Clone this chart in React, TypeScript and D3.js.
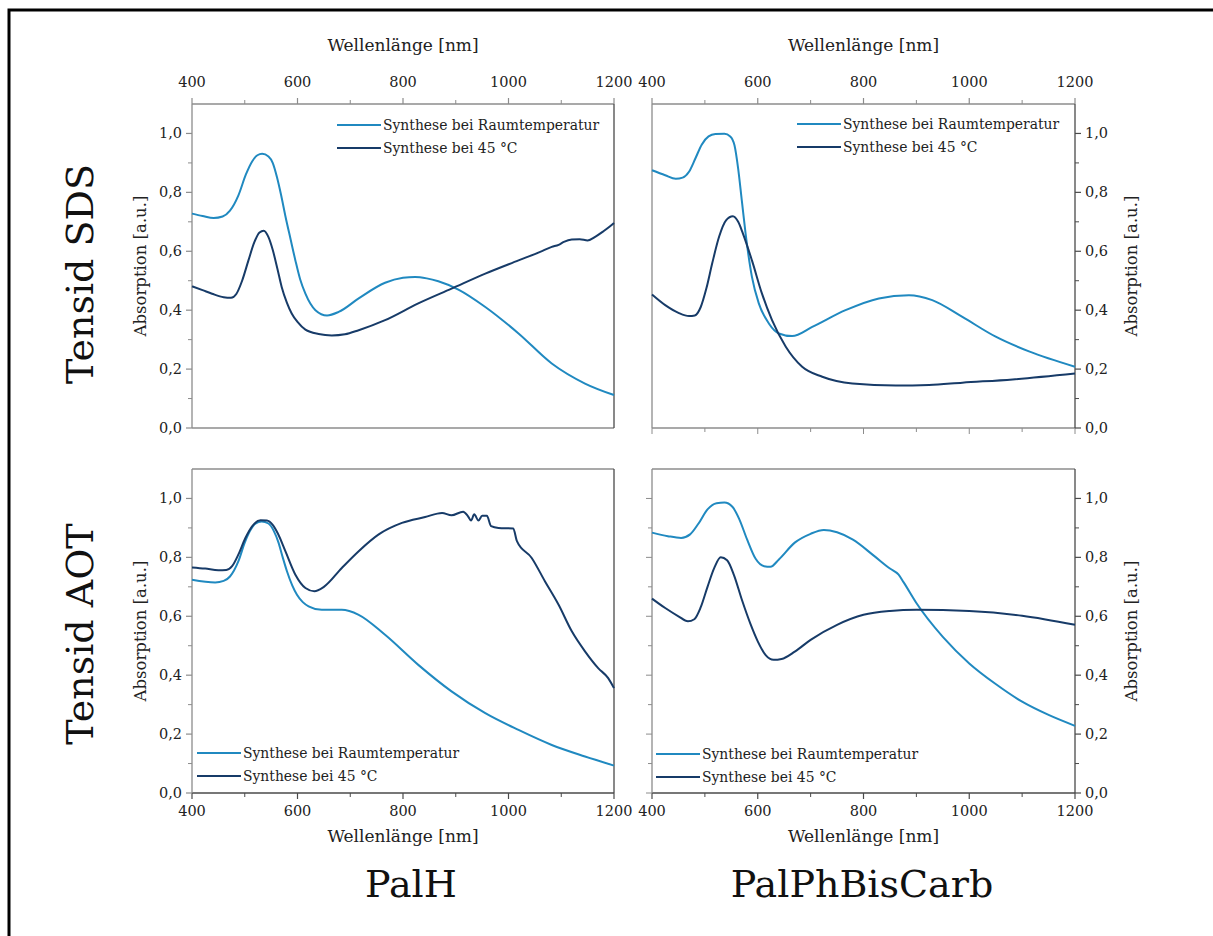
import React from "react";
import * as d3 from "d3";

// ---------- DATA (wavelength nm, absorption a.u.) ----------
const sdsPalH_RT: [number, number][] = [
  [400, 0.728], [420, 0.72], [441, 0.713], [458, 0.718], [472, 0.738], [488, 0.79], [502, 0.86], [514, 0.905], [524, 0.926], [533, 0.931], [545, 0.922],
  [553, 0.9], [561, 0.852], [569, 0.79], [577, 0.72], [587, 0.64], [596, 0.569], [605, 0.505], [615, 0.456], [634, 0.4], [656, 0.382], [678, 0.394],
  [716, 0.44], [766, 0.493], [800, 0.51], [823, 0.513], [845, 0.508], [867, 0.498], [905, 0.47], [956, 0.411], [1019, 0.321],
  [1082, 0.219], [1145, 0.151], [1200, 0.112],
];
const sdsPalH_45: [number, number][] = [
  [400, 0.481], [420, 0.468], [438, 0.456], [460, 0.444], [474, 0.442], [484, 0.455], [495, 0.5], [507, 0.569], [518, 0.63], [528, 0.664], [536, 0.67],
  [545, 0.648], [553, 0.605], [562, 0.54], [570, 0.479], [580, 0.425], [589, 0.389], [600, 0.36], [615, 0.334], [640, 0.319], [665, 0.314], [690, 0.318], [716, 0.332],
  [766, 0.366], [829, 0.423], [892, 0.473], [956, 0.524], [1019, 0.569], [1060, 0.598], [1082, 0.615],
  [1095, 0.622], [1105, 0.632], [1120, 0.64], [1135, 0.641], [1150, 0.637], [1165, 0.65], [1180, 0.668],
  [1192, 0.684], [1200, 0.696],
];
const sdsPal2_RT: [number, number][] = [
  [400, 0.875], [425, 0.858], [445, 0.846], [458, 0.85], [470, 0.87], [482, 0.915], [494, 0.962], [507, 0.99], [520, 0.998], [537, 0.999],
  [548, 0.99], [556, 0.96], [563, 0.88], [570, 0.77], [577, 0.66], [589, 0.513], [602, 0.423], [621, 0.355],
  [640, 0.321], [665, 0.312], [703, 0.343], [766, 0.4], [829, 0.44], [886, 0.451], [930, 0.434],
  [987, 0.377], [1050, 0.31], [1113, 0.26], [1200, 0.208],
];
const sdsPal2_45: [number, number][] = [
  [400, 0.453], [425, 0.417], [450, 0.391], [470, 0.38], [481, 0.382], [492, 0.41], [503, 0.475], [514, 0.56], [527, 0.65], [540, 0.705],
  [553, 0.719], [563, 0.7], [572, 0.66], [589, 0.569], [608, 0.456], [627, 0.366], [653, 0.276], [684, 0.208],
  [722, 0.174], [779, 0.151], [861, 0.144], [924, 0.146], [987, 0.154], [1082, 0.165], [1200, 0.185],
];
const aotPalH_RT: [number, number][] = [
  [400, 0.724], [444, 0.715], [460, 0.72], [472, 0.735], [488, 0.787], [500, 0.85], [510, 0.89], [520, 0.914], [532, 0.922], [545, 0.915],
  [555, 0.89], [564, 0.85], [572, 0.8], [580, 0.753], [590, 0.705], [599, 0.673], [610, 0.648], [621, 0.634], [646, 0.622], [684, 0.622], [716, 0.605],
  [766, 0.537], [829, 0.435], [892, 0.345], [956, 0.271], [1019, 0.214], [1082, 0.163], [1145, 0.124],
  [1200, 0.093],
];
const aotPalH_45: [number, number][] = [
  [400, 0.766], [425, 0.762], [450, 0.756], [465, 0.757], [476, 0.77], [488, 0.81], [501, 0.865], [515, 0.908], [530, 0.926], [542, 0.925],
  [553, 0.91], [563, 0.88], [577, 0.821], [596, 0.741], [615, 0.696], [632, 0.685], [650, 0.7], [684, 0.764],
  [716, 0.821], [754, 0.878], [798, 0.917], [842, 0.937], [874, 0.951], [892, 0.943], [914, 0.955],
  [923, 0.94], [929, 0.925], [935, 0.946], [943, 0.925], [950, 0.941], [959, 0.941], [967, 0.906],
  [981, 0.9], [1009, 0.898], [1016, 0.855], [1044, 0.798], [1069, 0.719], [1095, 0.639], [1120, 0.549],
  [1145, 0.481], [1170, 0.424], [1189, 0.39], [1200, 0.356],
];
const aotPal2_RT: [number, number][] = [
  [400, 0.884], [430, 0.872], [455, 0.866], [472, 0.878], [488, 0.915], [505, 0.963], [522, 0.984], [537, 0.986], [552, 0.972], [565, 0.93],
  [580, 0.86], [596, 0.795], [612, 0.77], [624, 0.768], [640, 0.793], [670, 0.85], [700, 0.88], [725, 0.893],
  [750, 0.885], [780, 0.86], [820, 0.805], [850, 0.762], [866, 0.742], [876, 0.715], [900, 0.645], [950, 0.53], [1000, 0.44],
  [1050, 0.37], [1100, 0.31], [1150, 0.265], [1200, 0.228],
];
const aotPal2_45: [number, number][] = [
  [400, 0.66], [425, 0.628], [450, 0.6], [468, 0.583], [480, 0.59], [492, 0.63], [505, 0.7], [518, 0.765], [530, 0.8], [542, 0.79],
  [555, 0.74], [570, 0.656], [586, 0.575], [600, 0.515], [615, 0.468], [630, 0.452], [645, 0.455], [670, 0.48], [700, 0.52], [750, 0.571],
  [800, 0.605], [850, 0.618], [900, 0.622], [1000, 0.618], [1100, 0.602], [1200, 0.571],
];

const xTicks = [400, 600, 800, 1000, 1200];
const xMinor = [500, 700, 900, 1100];
const yTicks = [0, 0.2, 0.4, 0.6, 0.8, 1.0];
const yMinor = [0.1, 0.3, 0.5, 0.7, 0.9];
const legendLabels = ["Synthese bei Raumtemperatur", "Synthese bei 45 °C"];
const rowLabels = ["Tensid SDS", "Tensid AOT"];
const colLabels = ["PalH", "PalPhBisCarb"];
const axisTitleX = "Wellenlänge [nm]";
const axisTitleY = "Absorption [a.u.]";

const C_RT = "#2089c0";
const C_45 = "#173b68";
const GRAY = "#8c8c8c";
const DARK = "#4a4a4a";
const FONT = "'DejaVu Serif', 'Liberation Serif', serif";

const fmt = (v: number) => v.toFixed(1).replace(".", ",");

type Panel = {
  x0: number; x1: number; top: number; bottom: number;
  side: "left" | "right"; row: "top" | "bottom";
  rt: [number, number][]; h45: [number, number][];
  legend: { x: number; y: number };
};

const panels: Panel[] = [
  { x0: 192, x1: 614, top: 104, bottom: 428, side: "left", row: "top", rt: sdsPalH_RT, h45: sdsPalH_45, legend: { x: 337, y: 125 } },
  { x0: 652, x1: 1075, top: 104, bottom: 428, side: "right", row: "top", rt: sdsPal2_RT, h45: sdsPal2_45, legend: { x: 797, y: 124 } },
  { x0: 192, x1: 614, top: 469, bottom: 793, side: "left", row: "bottom", rt: aotPalH_RT, h45: aotPalH_45, legend: { x: 197, y: 753 } },
  { x0: 652, x1: 1075, top: 469, bottom: 793, side: "right", row: "bottom", rt: aotPal2_RT, h45: aotPal2_45, legend: { x: 656, y: 754 } },
];

function PanelView({ p }: { p: Panel }) {
  const x = d3.scaleLinear().domain([400, 1200]).range([p.x0, p.x1]);
  const y = d3.scaleLinear().domain([0, 1.1]).range([p.bottom, p.top]);
  const line = d3
    .line<[number, number]>()
    .x((d) => x(d[0]))
    .y((d) => y(d[1]))
    .curve(d3.curveMonotoneX);
  const cx = (p.x0 + p.x1) / 2;
  const cy = (p.top + p.bottom) / 2;
  const isTop = p.row === "top";
  const xAxisY = isTop ? p.top : p.bottom;
  const xDir = isTop ? -1 : 1;
  const yAxisX = p.side === "left" ? p.x0 : p.x1;
  const yDir = p.side === "left" ? -1 : 1;
  const showBottomTicksTop = isTop && p.side === "right";
  const showOtherYTicks = !isTop && p.side === "right";
  return (
    <g>
      <line x1={p.x0} x2={p.x1} y1={p.top} y2={p.top} stroke={GRAY} strokeWidth={1.3} />
      <line x1={p.x0} x2={p.x1} y1={p.bottom} y2={p.bottom} stroke={isTop ? GRAY : DARK} strokeWidth={1.3} />
      <line x1={p.x0} x2={p.x0} y1={p.top} y2={p.bottom} stroke={GRAY} strokeWidth={1.3} />
      <line x1={p.x1} x2={p.x1} y1={p.top} y2={p.bottom} stroke={DARK} strokeWidth={1.3} />
      {xTicks.map((t) => (
        <line key={"xt" + t} x1={x(t)} x2={x(t)} y1={xAxisY} y2={xAxisY + xDir * 6} stroke={isTop ? GRAY : DARK} strokeWidth={1.2} />
      ))}
      {xMinor.map((t) => (
        <line key={"xm" + t} x1={x(t)} x2={x(t)} y1={xAxisY} y2={xAxisY + xDir * 4} stroke={isTop ? GRAY : DARK} strokeWidth={1} />
      ))}
      {showBottomTicksTop &&
        [...xTicks, ...xMinor].map((t) => (
          <line key={"xb" + t} x1={x(t)} x2={x(t)} y1={p.bottom} y2={p.bottom + (xTicks.includes(t) ? 6 : 4)} stroke={GRAY} strokeWidth={1} />
        ))}
      {xTicks.map((t) => (
        <text key={"xl" + t} x={x(t)} y={isTop ? 82 : 811} textAnchor="middle" dominantBaseline="central" fontSize={14.5} fontFamily={FONT} fill="#222">
          {t}
        </text>
      ))}
      <text x={cx} y={isTop ? 45 : 836} textAnchor="middle" dominantBaseline="central" fontSize={17} fontFamily={FONT} fill="#222">
        {axisTitleX}
      </text>
      {yTicks.map((t) => (
        <line key={"yt" + t} x1={yAxisX} x2={yAxisX + yDir * 6} y1={y(t)} y2={y(t)} stroke={p.side === "left" ? GRAY : DARK} strokeWidth={1.2} />
      ))}
      {yMinor.map((t) => (
        <line key={"ym" + t} x1={yAxisX} x2={yAxisX + yDir * 4} y1={y(t)} y2={y(t)} stroke={p.side === "left" ? GRAY : DARK} strokeWidth={1} />
      ))}
      {showOtherYTicks &&
        [...yTicks, ...yMinor].map((t) => (
          <line key={"yo" + t} x1={p.x0} x2={p.x0 - (yTicks.includes(t) ? 6 : 4)} y1={y(t)} y2={y(t)} stroke={GRAY} strokeWidth={1} />
        ))}
      {yTicks.map((t) => (
        <text key={"yl" + t} x={yAxisX + yDir * 10} y={y(t)} textAnchor={p.side === "left" ? "end" : "start"} dominantBaseline="central" fontSize={14.5} fontFamily={FONT} fill="#222">
          {fmt(t)}
        </text>
      ))}
      <text
        transform={`translate(${p.side === "left" ? 140 : 1131},${cy}) rotate(-90)`}
        textAnchor="middle" dominantBaseline="central" fontSize={16.5} fontFamily={FONT} fill="#222"
      >
        {axisTitleY}
      </text>
      <path d={line(p.rt) || ""} fill="none" stroke={C_RT} strokeWidth={2} />
      <path d={line(p.h45) || ""} fill="none" stroke={C_45} strokeWidth={2} />
      {[C_RT, C_45].map((c, i) => (
        <g key={"lg" + i}>
          <line x1={p.legend.x} x2={p.legend.x + 44} y1={p.legend.y + i * 23} y2={p.legend.y + i * 23} stroke={c} strokeWidth={2} />
          <text x={p.legend.x + 46} y={p.legend.y + i * 23} dominantBaseline="central" fontSize={13.9} fontFamily={FONT} fill="#222">
            {legendLabels[i]}
          </text>
        </g>
      ))}
    </g>
  );
}

export default function App() {
  return (
    <svg width={1213} height={936} style={{ position: "absolute", left: 0, top: 0, background: "#fff" }}>
      <rect x={0} y={0} width={1213} height={936} fill="#fff" />
      <rect x={9} y={10} width={1230} height={950} fill="none" stroke="#000" strokeWidth={3} />
      {panels.map((p, i) => (
        <PanelView key={i} p={p} />
      ))}
      {rowLabels.map((r, i) => (
        <text key={r} transform={`translate(80,${i === 0 ? 274 : 634}) rotate(-90)`} textAnchor="middle" dominantBaseline="central" fontSize={38} fontFamily={FONT} fill="#111">
          {r}
        </text>
      ))}
      {colLabels.map((c, i) => (
        <text key={c} x={i === 0 ? 411 : 862} y={884} textAnchor="middle" dominantBaseline="central" fontSize={38} fontFamily={FONT} fill="#111">
          {c}
        </text>
      ))}
    </svg>
  );
}
